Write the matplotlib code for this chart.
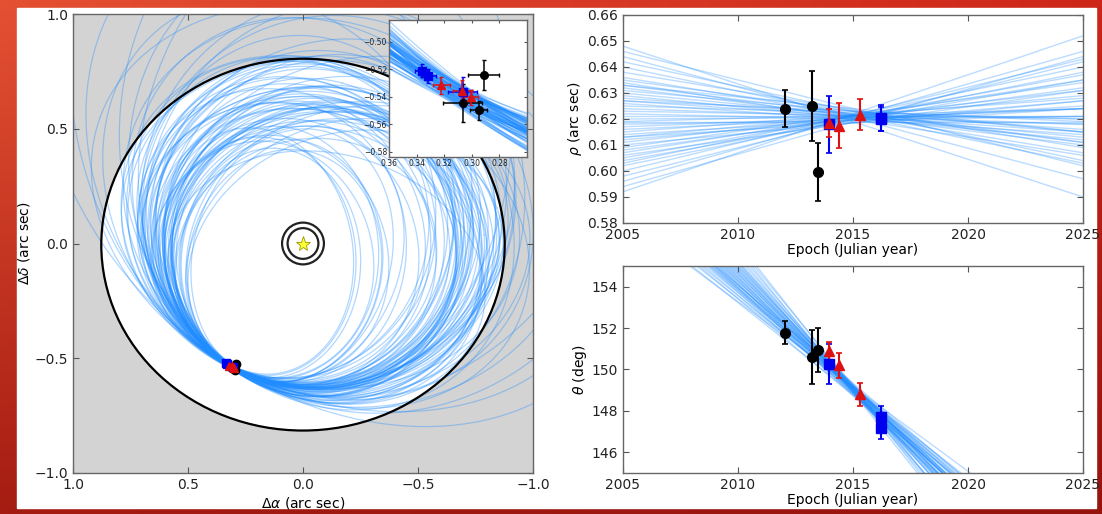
import numpy as np
import matplotlib
matplotlib.use("Agg")
import matplotlib.pyplot as plt
from matplotlib.patches import Ellipse, Rectangle

# ---- measurements: epoch, separation rho (arcsec), position angle theta (deg)
black_t = [2012.04, 2013.21, 2013.49]
black_rho = [0.6240, 0.6250, 0.5996]
black_rho_err = [0.0070, 0.0135, 0.0110]
black_theta = [151.78, 150.61, 150.93]
black_theta_err = [0.57, 1.30, 1.07]

blue_t = [2013.94, 2016.20, 2016.20]
blue_rho = [0.6180, 0.6205, 0.6200]
blue_rho_err = [0.0110, 0.0050, 0.0045]
blue_theta = [150.27, 147.72, 147.16]
blue_theta_err = [0.95, 0.50, 0.50]

red_t = [2013.95, 2014.39, 2015.29]
red_rho = [0.6185, 0.6175, 0.6217]
red_rho_err = [0.0055, 0.0085, 0.0060]
red_theta = [150.90, 150.20, 148.80]
red_theta_err = [0.45, 0.60, 0.55]

# ---- sampled orbits (sky plane): semi-axes, axis angle, tangent angle at the
# measured position, small offset across the track
orbit_a = [0.50, 0.52, 0.51, 0.54, 0.53, 0.56, 0.52, 0.55, 0.57, 0.54,
           0.62, 0.63, 0.64, 0.65, 0.66, 0.67, 0.68, 0.69, 0.70, 0.71,
           0.72, 0.73, 0.74, 0.75, 0.76, 0.77, 0.78, 0.64, 0.66, 0.68,
           0.70, 0.72, 0.74, 0.76, 0.63, 0.67, 0.71, 0.75, 0.69, 0.73,
           0.58, 0.62, 0.66, 0.70, 0.59, 0.63, 0.67, 0.61, 0.65, 0.69,
           0.66, 0.68, 0.70, 0.71, 0.73, 0.75, 0.77, 0.79, 0.67, 0.70,
           0.74, 0.78, 0.69, 0.72, 0.76,
           0.80, 0.82, 0.84, 0.86, 0.88, 0.90, 0.92, 0.94, 0.83, 0.87, 0.91, 0.85,
           1.10, 1.20, 1.30, 1.45, 1.25, 1.15]
orbit_b = [0.39, 0.40, 0.42, 0.41, 0.44, 0.43, 0.46, 0.45, 0.46, 0.48,
           0.58, 0.60, 0.57, 0.62, 0.60, 0.64, 0.61, 0.66, 0.63, 0.68,
           0.65, 0.70, 0.66, 0.71, 0.68, 0.73, 0.70, 0.62, 0.59, 0.65,
           0.67, 0.64, 0.69, 0.72, 0.61, 0.63, 0.66, 0.68, 0.64, 0.70,
           0.52, 0.57, 0.59, 0.63, 0.55, 0.60, 0.61, 0.53, 0.58, 0.64,
           0.56, 0.58, 0.54, 0.60, 0.61, 0.58, 0.63, 0.64, 0.60, 0.56,
           0.62, 0.66, 0.55, 0.64, 0.59,
           0.70, 0.74, 0.68, 0.78, 0.72, 0.76, 0.80, 0.74, 0.80, 0.71, 0.77, 0.79,
           0.90, 1.00, 0.95, 1.10, 1.15, 0.85]
orbit_phi = [88, 95, 80, 100, 85, 75, 105, 92, 70, 110,
             10, 40, 70, 100, 130, 160, 20, 50, 80, 110,
             140, 170, 30, 60, 90, 120, 150, 0, 35, 65,
             95, 125, 155, 15, 45, 75, 105, 135, 165, 55,
             25, 85, 145, 5, 115, 55, 175, 95, 35, 125,
             0, 15, 165, 5, 150, 25, 170, 10, 160, 20,
             155, 175, 30, 145, 8,
             140, 30, 160, 60, 120, 10, 150, 100, 45, 170, 130, 75,
             120, 60, 100, 140, 80, 160]
orbit_alpha = [-31, -28, -35, -26, -33, -37, -25, -30, -34, -29,
               -30, -34, -27, -37, -25, -32, -29, -36, -24, -33,
               -38, -26, -31, -35, -28, -36, -25, -32, -30, -37,
               -27, -34, -24, -31, -36, -29, -33, -26, -38, -30,
               -29, -33, -27, -35, -31, -25, -37, -30, -34, -28,
               -25, -31, -35, -28, -36, -30, -26, -33, -29, -37,
               -32, -27, -34, -30, -24,
               -32, -28, -35, -30, -26, -36, -31, -33, -29, -25, -36, -30,
               -30, -34, -27, -32, -36, -29]
orbit_off = [0.000, 0.004, -0.003, 0.006, -0.005, 0.002, -0.007, 0.003, -0.002, 0.005,
             -0.006, 0.001, 0.007, -0.004, 0.003, -0.001, 0.006, -0.007, 0.002, -0.003,
             0.008, -0.005, 0.000, 0.004, -0.002, 0.006, -0.006, 0.001, 0.005, -0.004,
             0.003, -0.008, 0.002, -0.001, 0.007, -0.003, 0.004, -0.005, 0.000, 0.006,
             0.003, -0.005, 0.001, 0.006, -0.002, 0.004, -0.006, 0.000, 0.005, -0.003,
             -0.002, 0.003, -0.006, 0.001, 0.005, -0.004, 0.002, -0.007, 0.004, -0.001,
             0.006, -0.003, 0.000, 0.005, -0.005,
             0.002, -0.004, 0.005, -0.001, 0.003, -0.006, 0.007, -0.002, 0.000, 0.004,
             -0.005, 0.006,
             0.001, -0.003, 0.004, -0.002, 0.005, -0.004]
anchor_ra, anchor_dec = 0.31, -0.538

# ---- the same orbits seen as separation / position angle tracks
rho_2005 = [0.648, 0.646, 0.644, 0.642, 0.640, 0.638, 0.636, 0.635, 0.634, 0.633,
            0.632, 0.631, 0.630, 0.629, 0.628, 0.627, 0.626, 0.625, 0.624, 0.623,
            0.622, 0.621, 0.620, 0.619, 0.618, 0.617, 0.616, 0.615, 0.614, 0.613,
            0.612, 0.611, 0.610, 0.609, 0.608, 0.607, 0.606, 0.605, 0.604, 0.603,
            0.602, 0.600, 0.598, 0.596, 0.594, 0.592, 0.627, 0.619, 0.613, 0.633]
rho_2025 = [0.590, 0.602, 0.597, 0.604, 0.603, 0.609, 0.607, 0.611, 0.606, 0.611,
            0.610, 0.615, 0.613, 0.612, 0.616, 0.615, 0.614, 0.620, 0.618, 0.620,
            0.618, 0.621, 0.621, 0.624, 0.621, 0.624, 0.624, 0.628, 0.625, 0.629,
            0.627, 0.631, 0.627, 0.634, 0.632, 0.635, 0.631, 0.637, 0.635, 0.640,
            0.638, 0.643, 0.642, 0.646, 0.644, 0.652, 0.619, 0.619, 0.624, 0.615]
t_theta155 = [2007.9, 2008.0, 2008.2, 2008.3, 2008.4, 2008.5, 2008.6, 2008.7, 2008.75,
              2008.8, 2008.85, 2008.9, 2008.95, 2009.0, 2009.05, 2009.1, 2009.15,
              2009.2, 2009.25, 2009.3, 2009.35, 2009.4, 2009.45, 2009.5, 2009.55,
              2009.6, 2009.65, 2009.7, 2009.75, 2009.8, 2009.85, 2009.9, 2009.95,
              2010.0, 2010.05, 2010.1, 2010.15, 2010.2, 2010.3, 2010.4, 2010.5,
              2010.6, 2010.7, 2010.8, 2009.0]
t_theta145 = [2020.1, 2019.3, 2019.7, 2019.0, 2019.5, 2019.2, 2019.6, 2018.9, 2019.25,
              2019.4, 2018.9, 2019.3, 2019.05, 2018.6, 2019.4, 2018.9, 2019.05,
              2018.6, 2019.2, 2018.9, 2018.65, 2019.0, 2018.7, 2018.9, 2018.45,
              2019.0, 2018.7, 2018.5, 2018.85, 2018.5, 2018.7, 2018.3, 2018.75,
              2018.4, 2018.5, 2018.3, 2018.65, 2018.1, 2018.3, 2018.0, 2018.1,
              2017.8, 2018.1, 2017.9, 2019.6]
year_ticks = [2005, 2010, 2015, 2020, 2025]

ORBIT = (0.12, 0.55, 1.0)
EDGE = "#666666"


def orbit_curve(a, b, phi, alpha, off):
    # ellipse through the anchor point, tangent to direction alpha there
    # (worked in u = -dRA so the sky looks as plotted)
    phi, alpha = np.radians(phi), np.radians(alpha)
    d = np.array([np.cos(alpha), np.sin(alpha)])
    n = np.array([-d[1], d[0]])
    p = np.array([-anchor_ra, anchor_dec]) + off * n
    c, s = np.cos(phi), np.sin(phi)
    d1 = d[0] * c + d[1] * s
    d2 = -d[0] * s + d[1] * c
    t0 = np.arctan2(-d1 / a, d2 / b)
    t = np.linspace(0, 2 * np.pi, 2500)
    lx = a * (np.cos(t) - np.cos(t0))
    ly = b * (np.sin(t) - np.sin(t0))
    u = p[0] + lx * c - ly * s
    v = p[1] + lx * s + ly * c
    return -u, v


def sky(rho, rho_err, theta, theta_err):
    rho = np.asarray(rho)
    rho_err = np.asarray(rho_err)
    th = np.radians(theta)
    dth = np.radians(theta_err)
    ra = rho * np.sin(th)
    dec = rho * np.cos(th)
    ra_err = np.hypot(np.sin(th) * rho_err, rho * np.cos(th) * dth)
    dec_err = np.hypot(np.cos(th) * rho_err, rho * np.sin(th) * dth)
    return ra, dec, ra_err, dec_err


def style(ax, size=10):
    ax.tick_params(direction="in", top=True, right=True, length=4, width=0.8,
                   labelsize=size, color="#555555", labelcolor="#222222")
    for sp in ax.spines.values():
        sp.set_color(EDGE)
        sp.set_linewidth(1.0)


fig = plt.figure(figsize=(11.02, 5.14), dpi=100)

# red slide background with white card
bg = fig.add_axes([0, 0, 1, 1], zorder=-10)
gy, gx = np.mgrid[0:1:80j, 0:1:160j]
tl = np.array([228, 80, 50]) / 255
tr = np.array([205, 38, 25]) / 255
bl = np.array([165, 28, 18]) / 255
br = np.array([150, 20, 14]) / 255
rgb = ((1 - gx)[..., None] * (1 - gy)[..., None] * tl + gx[..., None] * (1 - gy)[..., None] * tr
       + (1 - gx)[..., None] * gy[..., None] * bl + gx[..., None] * gy[..., None] * br)
bg.imshow(rgb, extent=[0, 1, 0, 1], aspect="auto", origin="upper")
bg.add_patch(Rectangle((17 / 1102, 1 - 508 / 514), (1096 - 17) / 1102, 500 / 514,
                       color="white", transform=bg.transAxes))
bg.set_xlim(0, 1)
bg.set_ylim(0, 1)
bg.axis("off")

groups = [
    (black_t, black_rho, black_rho_err, black_theta, black_theta_err, "o", "black", 7),
    (blue_t, blue_rho, blue_rho_err, blue_theta, blue_theta_err, "s", "#0000ee", 6.5),
    (red_t, red_rho, red_rho_err, red_theta, red_theta_err, "^", "#dd1111", 6.5),
]

# ---- left: sky plane
ax = fig.add_axes([73 / 1102, 1 - 473 / 514, 460 / 1102, 459 / 514])
ax.set_facecolor("#d3d3d3")
ax.add_patch(Ellipse((0, -0.005), 1.754, 1.62, facecolor="white", edgecolor="none", zorder=0))
for a, b, ph, al, of in zip(orbit_a, orbit_b, orbit_phi, orbit_alpha, orbit_off):
    x, y = orbit_curve(a, b, ph, al, of)
    ax.plot(x, y, color=ORBIT, alpha=0.35, lw=0.9, zorder=1)
ax.add_patch(Ellipse((0, -0.005), 1.754, 1.62, fill=False, edgecolor="black", lw=1.6, zorder=3))
ax.add_patch(Ellipse((0, 0), 0.182, 0.182, fill=False, edgecolor="#222222", lw=1.6, zorder=3))
ax.add_patch(Ellipse((0, 0), 0.134, 0.134, fill=False, edgecolor="#222222", lw=1.6, zorder=3))
ax.plot(0, 0, marker="*", ms=11, color="#ffff33", mec="#999900", mew=0.6, zorder=4)
for t, r, re, th, te, m, col, ms in groups:
    ra, dec, rae, dece = sky(r, re, th, te)
    ax.errorbar(ra, dec, xerr=rae, yerr=dece, fmt=m, color=col, ms=6, mec=col,
                elinewidth=1, capsize=0, zorder=5)
ax.set_xlim(1.0, -1.0)
ax.set_ylim(-1.0, 1.0)
ax.set_xticks([1.0, 0.5, 0.0, -0.5, -1.0])
ax.set_yticks([-1.0, -0.5, 0.0, 0.5, 1.0])
style(ax)
ax.set_xlabel(r"$\Delta\alpha$ (arc sec)", fontsize=10, labelpad=2)
ax.set_ylabel(r"$\Delta\delta$ (arc sec)", fontsize=10, labelpad=2)

# ---- inset zoom on the measurements
ins = fig.add_axes([389 / 1102, 1 - 157 / 514, 138 / 1102, 137 / 514])
ins.set_facecolor("white")
for a, b, ph, al, of in zip(orbit_a, orbit_b, orbit_phi, orbit_alpha, orbit_off):
    x, y = orbit_curve(a, b, ph, al, of)
    ins.plot(x, y, color=ORBIT, alpha=0.35, lw=0.9, zorder=1)
for t, r, re, th, te, m, col, ms in groups:
    ra, dec, rae, dece = sky(r, re, th, te)
    ins.errorbar(ra, dec, xerr=rae, yerr=dece, fmt=m, color=col, ms=5.5, mec=col,
                 elinewidth=1.1, capsize=1.5, zorder=5)
ins.set_xlim(0.36, 0.26)
ins.set_ylim(-0.584, -0.484)
ins.set_xticks([0.36, 0.34, 0.32, 0.30, 0.28])
ins.set_yticks([-0.50, -0.52, -0.54, -0.56, -0.58])
ins.set_xticklabels(["0.36", "0.34", "0.32", "0.30", "0.28"])
ins.set_yticklabels(["\u22120.50", "\u22120.52", "\u22120.54", "\u22120.56", "\u22120.58"])
style(ins, 5.5)
ins.tick_params(length=2, pad=1.5)

# ---- top right: separation
axr = fig.add_axes([623 / 1102, 1 - 223 / 514, 460 / 1102, 208 / 514])
for v0, v1 in zip(rho_2005, rho_2025):
    axr.plot([2005, 2025], [v0, v1], color=ORBIT, alpha=0.3, lw=1.0, zorder=1)
for t, r, re, th, te, m, col, ms in groups:
    axr.errorbar(t, r, yerr=re, fmt=m, color=col, ms=ms, mec=col,
                 elinewidth=1.5, capsize=2, capthick=1.2, zorder=5)
axr.set_xlim(2005, 2025)
axr.set_ylim(0.58, 0.66)
axr.set_xticks(year_ticks)
axr.set_yticks([0.58, 0.59, 0.60, 0.61, 0.62, 0.63, 0.64, 0.65, 0.66])
style(axr)
axr.set_xlabel("Epoch (Julian year)", fontsize=10, labelpad=1)
axr.set_ylabel(r"$\rho$ (arc sec)", fontsize=10, labelpad=2)

# ---- bottom right: position angle
axt = fig.add_axes([623 / 1102, 1 - 473 / 514, 460 / 1102, 207 / 514])
for t0, t1 in zip(t_theta155, t_theta145):
    axt.plot([t0, t1], [155, 145], color=ORBIT, alpha=0.3, lw=1.0, zorder=1)
for t, r, re, th, te, m, col, ms in groups:
    axt.errorbar(t, th, yerr=te, fmt=m, color=col, ms=ms, mec=col,
                 elinewidth=1.5, capsize=2, capthick=1.2, zorder=5)
axt.set_xlim(2005, 2025)
axt.set_ylim(145, 155)
axt.set_xticks(year_ticks)
axt.set_yticks([146, 148, 150, 152, 154])
style(axt)
axt.set_xlabel("Epoch (Julian year)", fontsize=10, labelpad=1)
axt.set_ylabel(r"$\theta$ (deg)", fontsize=10, labelpad=2)

fig.savefig("out.png", dpi=100)
